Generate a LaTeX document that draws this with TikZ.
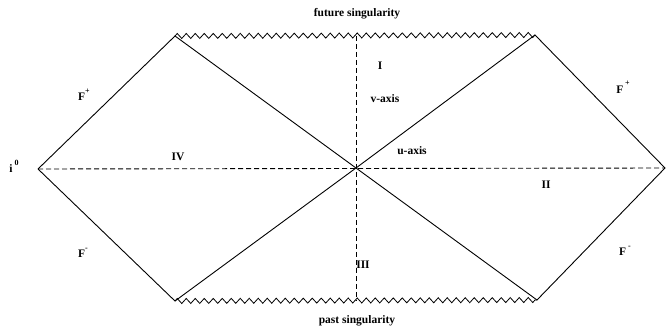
\documentclass[tikz,border=0pt]{standalone}
\usepackage{fontspec}
\setmainfont{Liberation Serif}
\usetikzlibrary{decorations.pathmorphing}
\begin{document}
\begin{tikzpicture}[x=1pt,y=-1pt,
  edge/.style={draw=black,line width=0.9pt},
  axis/.style={draw=black,line width=0.9pt,dash pattern=on 5pt off 3pt},
  sing/.style={draw=black,line width=0.8pt,decorate,decoration={zigzag,segment length=9pt,amplitude=2.5pt}},
  lbl/.style={font=\fontsize{11.5}{13}\selectfont\bfseries,inner sep=1pt}]
\useasboundingbox (0,0) rectangle (667,331);
\coordinate (L) at (38,169);
\coordinate (R) at (665,168);
\coordinate (C) at (356,168);
\coordinate (TL) at (175,36);
\coordinate (TR) at (535,35);
\coordinate (BL) at (175,301);
\coordinate (BR) at (537,300);
\coordinate (VT) at (356,36);
\coordinate (VB) at (356,301);
\draw[edge] (L) -- (TL) -- (C) -- (TR) -- (R) -- (BR) -- (C) -- (BL) -- (L);
\draw[sing] (TL) -- (TR);
\draw[sing] (BL) -- (BR);
\draw[axis] (L) -- (R);
\draw[axis] (VT) -- (VB);
\node[lbl] (fs) at (357,14) {future singularity};
\node[lbl] (ps) at (357,321) {past singularity};
\node[lbl] (r1) at (380,66) {I};
\node[lbl] (va) at (385,99) {v-axis};
\node[lbl] (ua) at (412,151) {u-axis};
\node[lbl] (r4) at (178,157) {IV};
\node[lbl] (r2) at (546,185) {II};
\node[lbl] (r3) at (363,265) {III};
\node[lbl] (fpl) at (84,95) {F\raisebox{7pt}{\footnotesize +}};
\node[lbl] (fpr) at (623,87) {F\,\raisebox{8pt}{\footnotesize +}};
\node[lbl] (fml) at (83,253) {F\raisebox{7pt}{\footnotesize -}};
\node[lbl] (fmr) at (625,251) {F\,\raisebox{7pt}{\footnotesize -}};
\node[lbl] (i0) at (14,166) {i\,\raisebox{7pt}{\footnotesize 0}};
\end{tikzpicture}
\end{document}
